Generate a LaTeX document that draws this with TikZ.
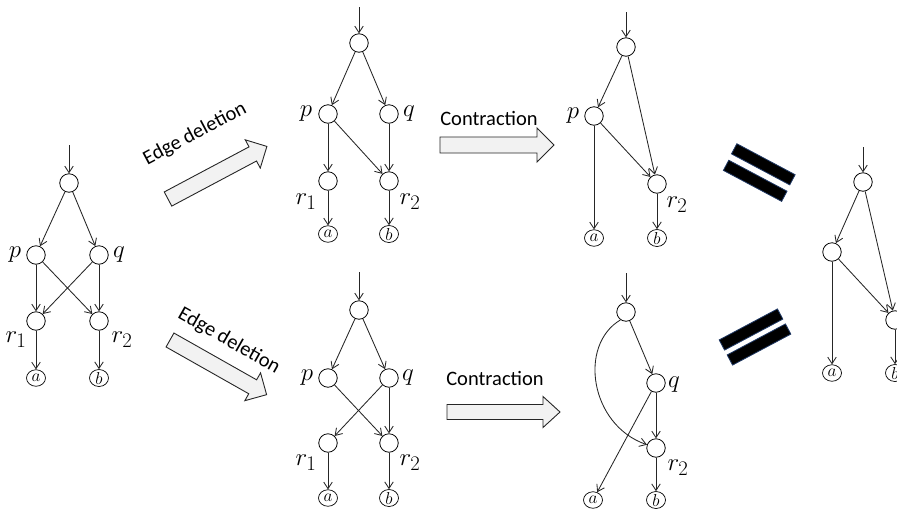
\documentclass[tikz,border=0pt]{standalone}
\usepackage{fontspec}
\setsansfont{Carlito}
\usetikzlibrary{arrows.meta,shapes.geometric}
\definecolor{barblue}{RGB}{31,56,100}
\definecolor{fatfill}{RGB}{242,242,242}
\newcommand\fatarrow[7]{\begin{scope}[shift={(#1,#2)},rotate=#3]
 \path[fat] (0,-#5) -- ({#4-#7},-#5) -- ({#4-#7},-#6) -- (#4,0) -- ({#4-#7},#6) -- ({#4-#7},#5) -- (0,#5) -- cycle;
\end{scope}}
\begin{document}
\begin{tikzpicture}[x=1pt,y=-1pt,
  vtx/.style={circle,draw=black,line width=0.8pt,minimum size=18.5pt,inner sep=0pt},
  leaf/.style={ellipse,draw=black,line width=0.7pt,minimum width=19pt,minimum height=16.5pt,inner sep=0pt,font=\fontsize{17.28}{18}\selectfont},
  lab/.style={inner sep=0pt,font=\fontsize{24.88}{26}\selectfont},
  edge/.style={draw=black!85,line width=0.85pt,-{Straight Barb[length=6.5pt,width=8.5pt]}},
  fat/.style={draw=black!85,line width=0.9pt,fill=fatfill},
  txt/.style={font=\sffamily\fontsize{20.5}{24}\selectfont,inner sep=0pt},
  bar/.style={draw=barblue,fill=black,line width=0.8pt,minimum width=66pt,minimum height=11.5pt,inner sep=0pt}
]
\useasboundingbox (0,0) rectangle (897,515);
\clip (0,0) rectangle (897,515);

% ---------- Graph 1 (left) ----------
\coordinate (g1s) at (69,145);
\node[vtx] (g1t) at (69,183) {};
\node[vtx] (g1p) at (36,255) {};
\node[vtx] (g1q) at (99,255) {};
\node[vtx] (g1r1) at (36,321) {};
\node[vtx] (g1r2) at (99,321) {};
\node[leaf] (g1a) at (36,378) {$a$};
\node[leaf] (g1b) at (99,378) {$b$};
\node[lab] (g1pl) at (15,255) {$p$};
\node[lab] (g1ql) at (119,255) {$q$};
\node[lab] (g1r1l) at (16,340) {$r_1$};
\node[lab] (g1r2l) at (122,340) {$r_2$};
\draw[edge] (g1s) -- (g1t);
\draw[edge] (g1t) -- (g1p);
\draw[edge] (g1t) -- (g1q);
\draw[edge] (g1p) -- (g1r1);
\draw[edge] (g1p) -- (g1r2);
\draw[edge] (g1q) -- (g1r1);
\draw[edge] (g1q) -- (g1r2);
\draw[edge] (g1r1) -- (g1a);
\draw[edge] (g1r2) -- (g1b);

% ---------- Graph 2 (top middle) ----------
\coordinate (g2s) at (359,7);
\node[vtx] (g2t) at (359,43) {};
\node[vtx] (g2p) at (328,114) {};
\node[vtx] (g2q) at (389,114) {};
\node[vtx] (g2r1) at (328,181) {};
\node[vtx] (g2r2) at (389,181) {};
\node[leaf] (g2a) at (328,234) {$a$};
\node[leaf] (g2b) at (389,234) {$b$};
\node[lab] (g2pl) at (306,114) {$p$};
\node[lab] (g2ql) at (409,114) {$q$};
\node[lab] (g2r1l) at (306,202) {$r_1$};
\node[lab] (g2r2l) at (410,202) {$r_2$};
\draw[edge] (g2s) -- (g2t);
\draw[edge] (g2t) -- (g2p);
\draw[edge] (g2t) -- (g2q);
\draw[edge] (g2p) -- (g2r1);
\draw[edge] (g2p) -- (g2r2);
\draw[edge] (g2q) -- (g2r2);
\draw[edge] (g2r1) -- (g2a);
\draw[edge] (g2r2) -- (g2b);

% ---------- Graph 3 (bottom middle) ----------
\coordinate (g3s) at (359,272);
\node[vtx] (g3t) at (359,310) {};
\node[vtx] (g3p) at (328,378) {};
\node[vtx] (g3q) at (389,378) {};
\node[vtx] (g3r1) at (328,443) {};
\node[vtx] (g3r2) at (389,443) {};
\node[leaf] (g3a) at (328,498) {$a$};
\node[leaf] (g3b) at (389,498) {$b$};
\node[lab] (g3pl) at (307,378) {$p$};
\node[lab] (g3ql) at (408,378) {$q$};
\node[lab] (g3r1l) at (306,463) {$r_1$};
\node[lab] (g3r2l) at (410,463) {$r_2$};
\draw[edge] (g3s) -- (g3t);
\draw[edge] (g3t) -- (g3p);
\draw[edge] (g3t) -- (g3q);
\draw[edge] (g3p) -- (g3r2);
\draw[edge] (g3q) -- (g3r1);
\draw[edge] (g3q) -- (g3r2);
\draw[edge] (g3r1) -- (g3a);
\draw[edge] (g3r2) -- (g3b);

% ---------- Graph 4 (top right) ----------
\coordinate (g4s) at (626,12);
\node[vtx] (g4t) at (626,47) {};
\node[vtx] (g4p) at (594,116) {};
\node[vtx] (g4r2) at (657,184) {};
\node[leaf] (g4a) at (594,238) {$a$};
\node[leaf] (g4b) at (657,238) {$b$};
\node[lab] (g4pl) at (573,116) {$p$};
\node[lab] (g4r2l) at (677,205) {$r_2$};
\draw[edge] (g4s) -- (g4t);
\draw[edge] (g4t) -- (g4p);
\draw[edge] (g4t) -- (g4r2);
\draw[edge] (g4p) -- (g4r2);
\draw[edge] (g4p) -- (g4a);
\draw[edge] (g4r2) -- (g4b);

% ---------- Graph 5 (bottom right) ----------
\coordinate (g5s) at (626,273);
\node[vtx] (g5t) at (626,312) {};
\node[vtx] (g5q) at (656,383) {};
\node[vtx] (g5r2) at (656,448) {};
\node[leaf] (g5a) at (593,500) {$a$};
\node[leaf] (g5b) at (656,500) {$b$};
\node[lab] (g5ql) at (674,385) {$q$};
\node[lab] (g5r2l) at (678,468) {$r_2$};
\draw[edge] (g5s) -- (g5t);
\draw[edge] (g5t) -- (g5q);
\draw[edge] (g5t.235) .. controls (578,345) and (590,425) .. (g5r2.160);
\draw[edge] (g5q) -- (g5a);
\draw[edge] (g5q) -- (g5r2);
\draw[edge] (g5r2) -- (g5b);

% ---------- Graph 6 (far right, cut off) ----------
\coordinate (g6s) at (863,147);
\node[vtx] (g6t) at (863,182) {};
\node[vtx] (g6l) at (832,252) {};
\node[vtx] (g6r) at (895,320) {};
\node[leaf] (g6a) at (832,373) {$a$};
\node[leaf] (g6b) at (895,373) {$b$};
\draw[edge] (g6s) -- (g6t);
\draw[edge] (g6t) -- (g6l);
\draw[edge] (g6t) -- (g6r);
\draw[edge] (g6l) -- (g6r);
\draw[edge] (g6l) -- (g6a);
\draw[edge] (g6r) -- (g6b);

% ---------- Fat arrows and texts ----------
\fatarrow{168}{199}{28}{112}{8}{16}{16}
\fatarrow{170}{340}{-29.5}{111}{8}{16}{16}
\fatarrow{440}{145}{0}{114}{8}{17}{17}
\fatarrow{447}{412}{0}{113}{7.5}{15.5}{17}
\node[txt,rotate=28] (t1) at (195,134) {Edge deletion};
\node[txt,rotate=-29.5] (t2) at (229,341) {Edge deletion};
\node[txt] (t3) at (489,118) {Contraction};
\node[txt] (t4) at (495,378) {Contraction};

% ---------- Equal signs ----------
\node[bar,rotate=-28] (e1a) at (763.3,164.3) {};
\node[bar,rotate=-28] (e1b) at (755.2,180.8) {};
\node[bar,rotate=28] (e2a) at (751,329.5) {};
\node[bar,rotate=28] (e2b) at (759,344.5) {};
\end{tikzpicture}
\end{document}
